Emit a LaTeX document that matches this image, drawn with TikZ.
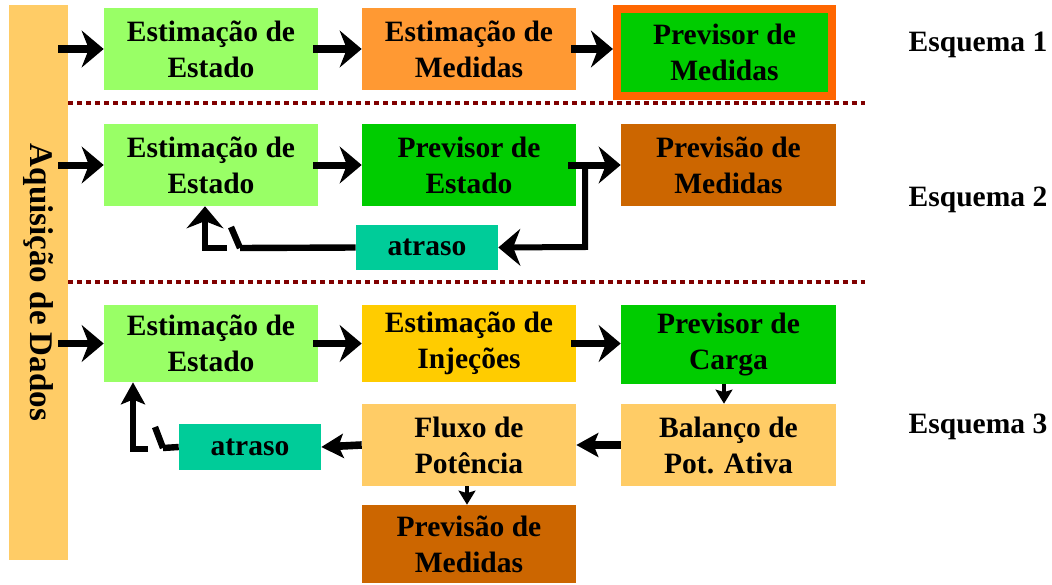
\documentclass[tikz,border=0pt]{standalone}
\usepackage{fontspec}
\setmainfont{Liberation Serif}
\usetikzlibrary{arrows.meta,positioning}

\definecolor{verdeclaro}{HTML}{99FF66}
\definecolor{verde}{HTML}{00CC00}
\definecolor{laranja}{HTML}{FF9933}
\definecolor{laranjaforte}{HTML}{FF6600}
\definecolor{laranjaclaro}{HTML}{FFCC66}
\definecolor{marrom}{HTML}{CC6600}
\definecolor{turquesa}{HTML}{00CC99}
\definecolor{amarelo}{HTML}{FFCC00}
\definecolor{vinho}{HTML}{800000}

\begin{document}
\begin{tikzpicture}[x=0.025cm,y=-0.025cm,
	font=\fontsize{21}{25.6}\selectfont\bfseries,
	main node/.style={align=center,inner sep=0pt,minimum width=5.35cm,minimum height=2.05cm},
	atraso node/.style={inner sep=0pt,fill=turquesa,minimum width=3.55cm,minimum height=1.125cm},
	seta/.style={line width=0.175cm,-{Stealth[length=0.55cm,width=0.92cm,inset=0.18cm]}},
	seta media/.style={line width=0.19cm,-{Stealth[length=0.55cm,width=0.6cm,inset=0.12cm]}},
	setinha/.style={line width=0.1cm,-{Stealth[length=0.35cm,width=0.42cm,inset=0.06cm]}},
	linha/.style={line width=0.16cm},
	pontilhado/.style={line width=0.1cm,vinho,dash pattern=on 0.125cm off 0.1cm}]
	
	\useasboundingbox (0,0) rectangle (1052,585);
	
	\node[fill=laranjaclaro,inner sep=0pt,minimum width=1.475cm,minimum height=13.875cm] (0) at (38.5,282.5) {};
	\node[rotate=-90,font=\fontsize{23.5}{28}\selectfont\bfseries] at (0) {Aquisição de Dados};
	
	% Esquema 1
	\node[main node,fill=verdeclaro] (1) at (211,49) {Estimação de\\Estado};
	\node[main node,fill=laranja] (2) at (469,49) {Estimação de\\Medidas};
	\node[main node,fill=verde,draw=laranjaforte,line width=0.2cm,minimum width=5.375cm,minimum height=2.175cm] (3) at (724.5,52.5) {Previsor de\\Medidas};
	\node[inner sep=0pt] (e1) at (978,45) {Esquema 1};
	
	% Esquema 2
	\node[main node,fill=verdeclaro] (4) at (211,165) {Estimação de\\Estado};
	\node[main node,fill=verde] (5) at (469,165) {Previsor de\\Estado};
	\node[main node,fill=marrom,minimum width=5.375cm] (6) at (728.5,165) {Previsão de\\Medidas};
	\node[atraso node] (7) at (427,247.5) {atraso};
	\node[inner sep=0pt] (e2) at (978,200) {Esquema 2};
	
	% Esquema 3
	\node[main node,fill=verdeclaro,minimum height=1.925cm] (8) at (211,343.5) {Estimação de\\Estado};
	\node[main node,fill=amarelo,minimum height=1.925cm] (9) at (469,343.5) {Estimação de\\Injeções};
	\node[main node,fill=verde,minimum width=5.375cm,minimum height=1.975cm] (10) at (728.5,344.5) {Previsor de\\Carga};
	\node[main node,fill=laranjaclaro,minimum width=5.375cm] (11) at (728.5,445) {Balanço de\\Pot. Ativa};
	\node[main node,fill=laranjaclaro] (12) at (469,445) {Fluxo de\\Potência};
	\node[atraso node] (13) at (250,447) {atraso};
	\node[main node,fill=marrom,minimum height=1.95cm] (14) at (469,544) {Previsão de\\Medidas};
	\node[inner sep=0pt] (e3) at (978,427) {Esquema 3};
	
	% linhas divisorias
	\coordinate (d1) at (865,103);
	\coordinate (d2) at (865,282);
	\draw[pontilhado] (0.east |- d1) -- (d1);
	\draw[pontilhado] (0.east |- d2) -- (d2);
	
	% setas
	\draw[seta] ([xshift=-0.25cm]0.east |- 1.west) -- (1.west);
	\draw[seta] ([xshift=-0.125cm]1.east) -- (2.west);
	\draw[seta] ([xshift=-0.125cm]2.east) -- (2.east -| 3.west);
	
	\draw[seta] ([xshift=-0.25cm]0.east |- 4.west) -- (4.west);
	\draw[seta] ([xshift=-0.125cm]4.east) -- (5.west);
	\draw[seta] ([xshift=-0.2cm]5.east) -- (6.west);
	\coordinate (c1) at (585,163);
	\coordinate (c2) at (585,247);
	\draw[seta,line width=0.15cm] (c1) -- (c2) -- (7.east);
	\coordinate (c3) at (240,248);
	\coordinate (c4) at (231,227);
	\coordinate (c5) at (227,248);
	\coordinate (c6) at (205,248);
	\draw[linha] (7.west) -- (c3);
	\draw[linha] (c4) -- (c3);
	\draw[seta,line width=0.16cm] (c5) -- (c6) -- (c6 |- 4.south);
	
	\draw[seta] ([xshift=-0.25cm]0.east |- 8.west) -- (8.west);
	\draw[seta] ([xshift=-0.125cm]8.east) -- (9.west);
	\draw[seta] ([xshift=-0.125cm]9.east) -- (9.east -| 10.west);
	\draw[setinha] ([xshift=-0.1125cm]10.south) -- ([xshift=-0.1125cm]11.north);
	\draw[seta media] (11.west) -- (12.east);
	\draw[seta media] (12.west) -- (13.east);
	\draw[setinha] ([xshift=-0.05cm]12.south) -- ([xshift=-0.05cm]14.north);
	\coordinate (c7) at (163,448);
	\coordinate (c8) at (155,427);
	\coordinate (c9) at (148,449);
	\coordinate (c10) at (133,449);
	\draw[linha] (13.west) -- (c7);
	\draw[linha] (c8) -- (c7);
	\draw[seta media,line width=0.15cm] (c9) -- (c10) -- (c10 |- 8.south);
\end{tikzpicture}
\end{document}
